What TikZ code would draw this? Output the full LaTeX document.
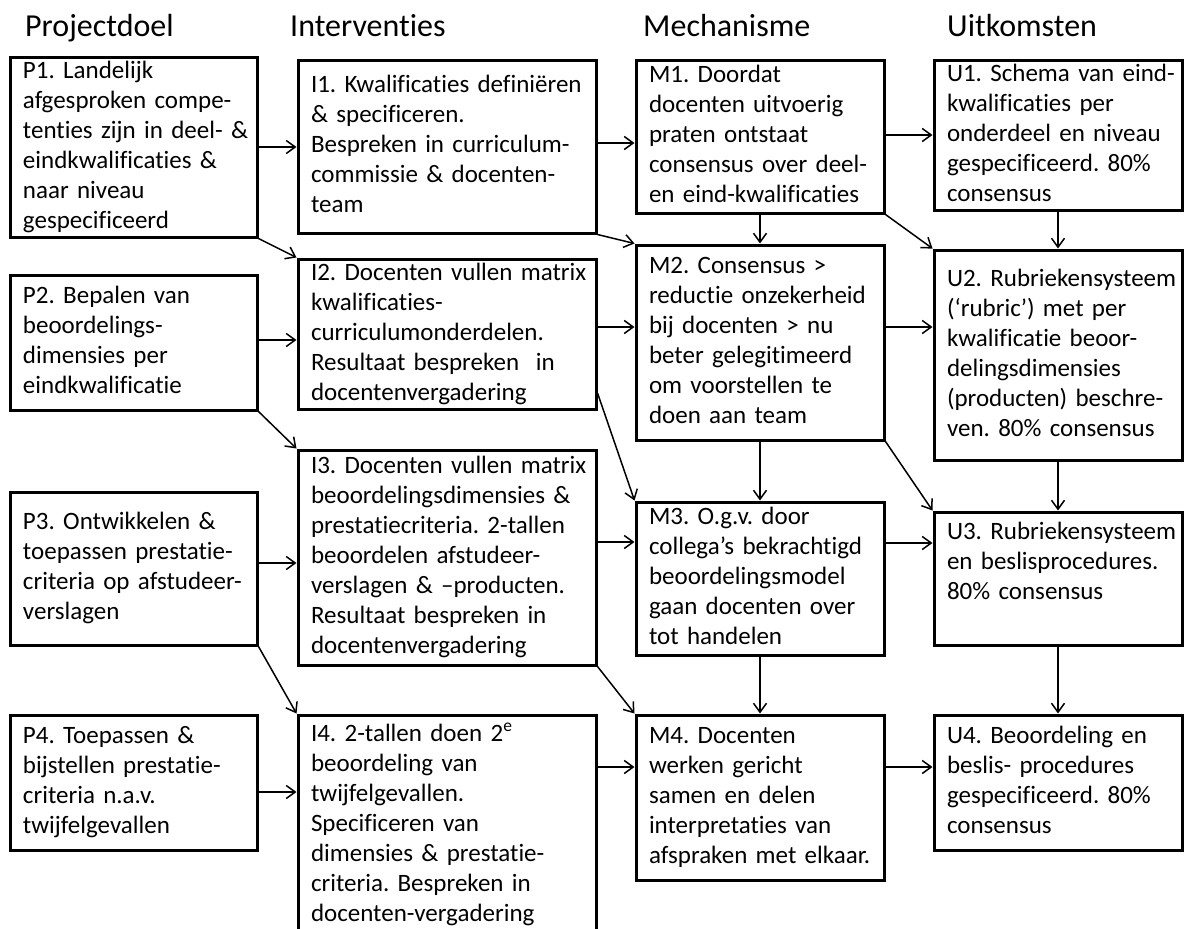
\documentclass[tikz,border=0pt]{standalone}
\usepackage{fontspec}
\setmainfont{Carlito}[Ligatures=NoCommon]
\usetikzlibrary{arrows.meta,calc}
\frenchspacing
\newcommand\boxlines[1]{\begin{tabular}{@{}l@{}}#1\end{tabular}}
\begin{document}
\begin{tikzpicture}[x=1pt,y=-1pt,
  box/.style={draw, line width=3pt, rectangle, inner xsep=13pt, inner ysep=0pt, align=left, font=\fontsize{25}{30}\selectfont\frenchspacing},
  pbox/.style={box, text width=221pt, minimum height=#1},
  ibox/.style={box, text width=272pt, minimum height=#1},
  mbox/.style={box, text width=222pt, minimum height=#1},
  ubox/.style={box, text width=222pt, minimum height=#1},
  head/.style={anchor=base west, inner sep=0pt, font=\fontsize{32}{38}\selectfont},
  arr/.style={line width=1.5pt, -{Straight Barb[length=9pt,width=13pt,line width=1.5pt]}}
]
\useasboundingbox (0,0) rectangle (1184,929);
\fill[white] (0,0) rectangle (1184,929);
\clip (0,0) rectangle (1184,929);

% headers
\node[head] (hp) at (25,36) {Projectdoel};
\node[head] (hi) at (290,36) {Interventies};
\node[head] (hm) at (643,36) {Mechanisme};
\node[head] (hu) at (947,36) {Uitkomsten};

% Projectdoel
\node[pbox=172pt] (p1) at (133.5,147) {\boxlines{P1. Landelijk\\afgesproken compe-\\tenties zijn in deel- \&\\eindkwalificaties \&\\naar niveau\\gespecificeerd}};
\node[pbox=135pt] (p2) at (133.5,342.5) {\boxlines{P2. Bepalen van\\beoordelings-\\dimensies per\\eindkwalificatie}};
\node[pbox=153pt] (p3) at (133.5,568.5) {\boxlines{P3. Ontwikkelen \&\\toepassen prestatie-\\criteria op afstudeer-\\verslagen}};
\node[pbox=135pt] (p4) at (133.5,782.5) {\boxlines{P4. Toepassen \&\\bijstellen prestatie-\\criteria n.a.v.\\twijfelgevallen}};

% Interventies
\node[ibox=173pt] (i1) at (447,146.5) {\boxlines{I1. Kwalificaties definiëren\\\& specificeren.\\Bespreken in curriculum-\\commissie \& docenten-\\team}};
\node[ibox=148pt] (i2) at (447,334) {\boxlines{I2. Docenten vullen matrix\\kwalificaties-\\curriculumonderdelen.\\Resultaat bespreken\ \ in\\docentenvergadering}};
\node[ibox=215pt] (i3) at (447,557.5) {\boxlines{I3. Docenten vullen matrix\\beoordelingsdimensies \&\\prestatiecriteria. 2-tallen\\beoordelen afstudeer-\\verslagen \& –producten.\\Resultaat bespreken in\\docentenvergadering}};
\node[ibox=220pt] (i4) at (447,825) {\boxlines{I4. 2-tallen doen 2\textsuperscript{e}\\beoordeling van\\twijfelgevallen.\\Specificeren van\\dimensies \& prestatie-\\criteria. Bespreken in\\docenten-vergadering}};

% Mechanisme
\node[mbox=153pt] (m1) at (760,136.5) {\boxlines{M1. Doordat\\docenten uitvoerig\\praten ontstaat\\consensus over deel-\\en eind-kwalificaties}};
\node[mbox=195pt] (m2) at (760,342.5) {\boxlines{M2. Consensus >\\reductie onzekerheid\\bij docenten > nu\\beter gelegitimeerd\\om voorstellen te\\doen aan team}};
\node[mbox=153pt] (m3) at (760,578.5) {\boxlines{M3. O.g.v. door\\collega’s bekrachtigd\\beoordelingsmodel\\gaan docenten over\\tot handelen}};
\node[mbox=165pt] (m4) at (760,797.5) {\boxlines{M4. Docenten\\werken gericht\\samen en delen\\interpretaties van\\afspraken met elkaar.}};

% Uitkomsten
\node[ubox=144pt] (u1) at (1058,135) {\boxlines{U1. Schema van eind-\\kwalificaties per\\onderdeel en niveau\\gespecificeerd. 80\%\\consensus}};
\node[ubox=210pt] (u2) at (1058,355) {\boxlines{U2. Rubriekensysteem\\(‘rubric’) met per\\kwalificatie beoor-\\delingsdimensies\\(producten) beschre-\\ven. 80\% consensus}};
\node[ubox=133pt] (u3) at (1058,578.5) {\boxlines{U3. Rubriekensysteem\\en beslisprocedures.\\80\% consensus\\\mbox{}}};
\node[ubox=135pt] (u4) at (1058,782.5) {\boxlines{U4. Beoordeling en\\beslis- procedures\\gespecificeerd. 80\%\\consensus}};

% connectors
\draw[arr] (p1.east) -- (p1.east -| i1.west);
\draw[arr] (p1.south east) -- (i2.north west);
\draw[arr] (i1.east |- 0,143) -- (m1.west |- 0,143);
\draw[arr] (i1.south east) -- (m2.north west);
\draw[arr] (m1.east |- 0,135) -- (u1.west |- 0,135);
\draw[arr] (m1.south east) -- (u2.north west);
\draw[arr] (m1.south) -- (m2.north);
\draw[arr] (u1.south) -- (u2.north);
\draw[arr] (p2.east |- 0,340) -- (i2.west |- 0,340);
\draw[arr] (p2.south east) -- (i3.north west);
\draw[arr] (i2.east |- 0,327) -- (m2.west |- 0,327);
\draw[arr] (i2.east |- 0,393) -- (m3.north west);
\draw[arr] (m2.east |- 0,327) -- (u2.west |- 0,327);
\draw[arr] (m2.south) -- (m3.north);
\draw[arr] (m2.south east) -- (u3.north west);
\draw[arr] (u2.south) -- (u3.north);
\draw[arr] (p3.east |- 0,563) -- (i3.west |- 0,563);
\draw[arr] (i3.east |- 0,542) -- (m3.west |- 0,542);
\draw[arr] (m3.east |- 0,543) -- (u3.west |- 0,543);
\draw[arr] (p3.south east) -- (i4.north west);
\draw[arr] (i3.south east) -- (m4.north west);
\draw[arr] (m3.south) -- (m4.north);
\draw[arr] (u3.south) -- (u4.north);
\draw[arr] (p4.east |- 0,792) -- (i4.west |- 0,792);
\draw[arr] (i4.east |- 0,767) -- (m4.west |- 0,767);
\draw[arr] (m4.east |- 0,767) -- (u4.west |- 0,767);
\end{tikzpicture}
\end{document}
